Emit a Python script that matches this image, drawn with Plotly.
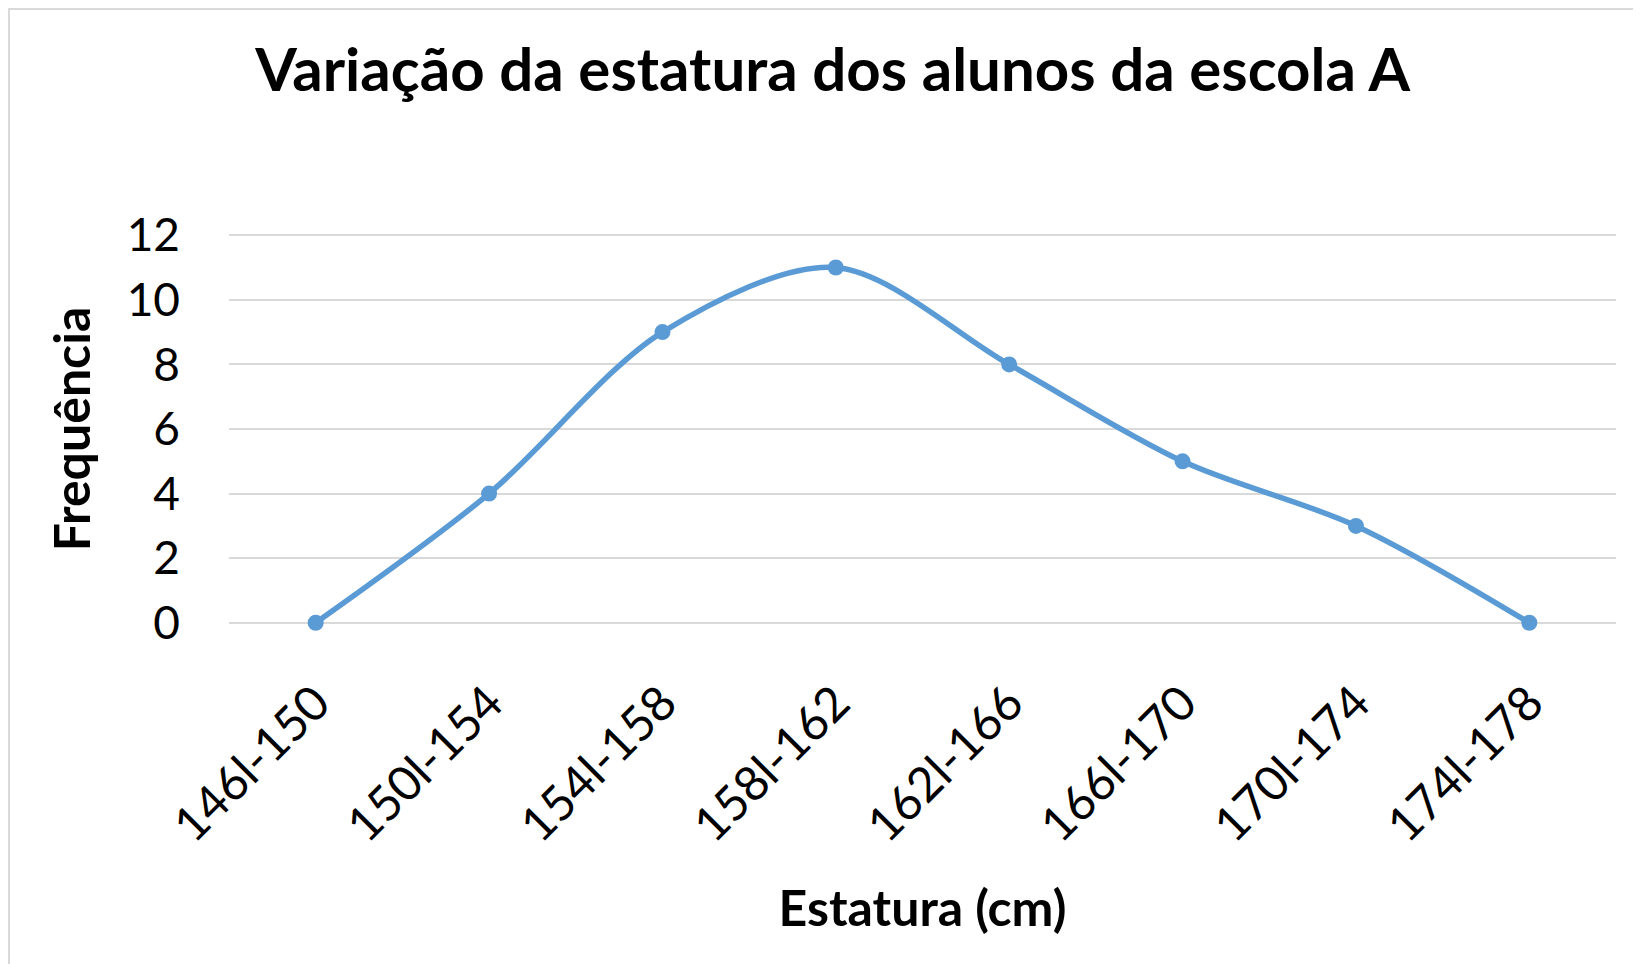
import plotly.graph_objects as go

categories = ["146l-150", "150l-154", "154l-158", "158l-162", "162l-166", "166l-170", "170l-174", "174l-178"]
frequencia = [0, 4, 9, 11, 8, 5, 3, 0]
y_ticks = [0, 2, 4, 6, 8, 10, 12]

# page body has an 8px default margin
W, H = 1633, 956
L, R, T, B = 221, 25, 224, 338
FONT = "Lato"

fig = go.Figure()
fig.add_trace(go.Scatter(
    x=categories, y=frequencia, mode="lines+markers",
    line=dict(color="#5B9BD5", width=5.5, shape="spline", smoothing=0.9),
    marker=dict(color="#5B9BD5", size=16),
    cliponaxis=False, showlegend=False,
))

pw = W - L - R
ph = H - T - B
fig.update_layout(
    width=W, height=H,
    margin=dict(l=L, r=R, t=T, b=B),
    paper_bgcolor="white", plot_bgcolor="white",
    font=dict(family=FONT, color="black"),
    title=dict(text="<b>Variação da estatura dos alunos da escola A</b>",
               x=0.505, xanchor="center", y=1 - 62 / H, yanchor="middle",
               font=dict(size=60, family=FONT, color="black")),
    xaxis=dict(type="category", range=[-0.5, len(categories) - 0.5],
               tickangle=-45, tickfont=dict(size=48, family=FONT),
               ticklabelstandoff=38,
               showgrid=False, zeroline=False, showline=False, ticks="",
               title=dict(text="<b>Estatura (cm)</b>", font=dict(size=50, family=FONT), standoff=40)),
    yaxis=dict(range=[-0.1, 12.1], tickvals=y_ticks, tickfont=dict(size=46, family=FONT),
               ticklabelstandoff=48,
               showgrid=True, gridcolor="#D9D9D9", gridwidth=2, zeroline=False,
               showline=False, ticks="",
               title=dict(text="<b>Frequência</b>", font=dict(size=50, family=FONT), standoff=20)),
    shapes=[dict(type="rect", xref="paper", yref="paper",
                 x0=(1 - L) / pw, x1=(W + 50 - L) / pw,
                 y0=(H - B - (H + 50)) / ph, y1=(H - B - 1) / ph,
                 line=dict(color="#D9D9D9", width=2), fillcolor="rgba(0,0,0,0)", layer="below")],
)
fig.write_html("out.html")
